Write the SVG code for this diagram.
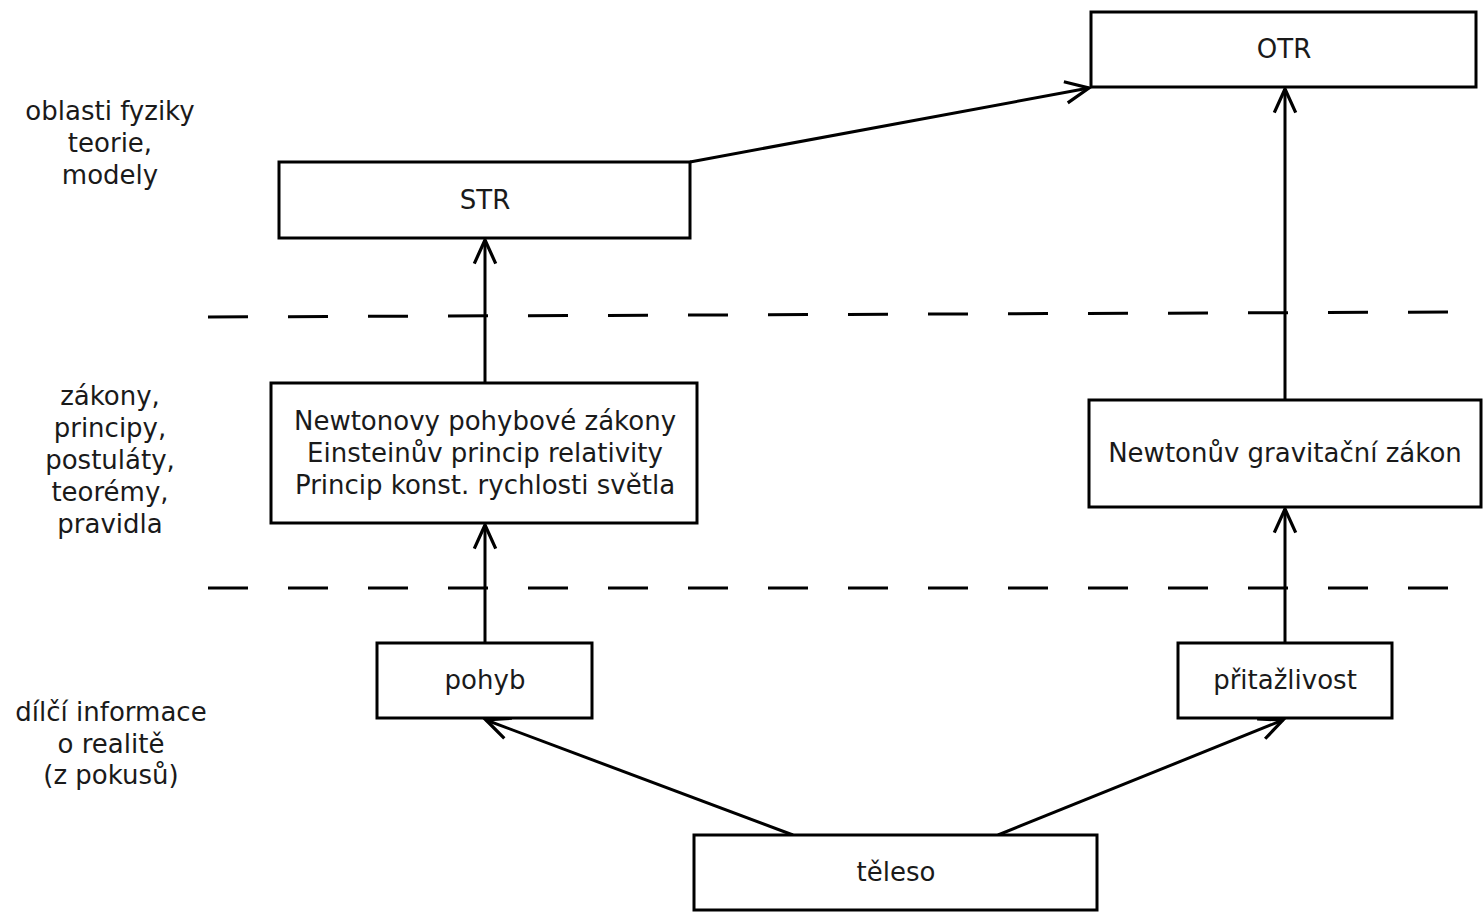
<svg xmlns="http://www.w3.org/2000/svg" width="1484" height="920" viewBox="0 0 1484 920">
  <defs>
    <style>
      .box { fill: #ffffff; stroke: #000000; stroke-width: 3; }
      .lbl { font-family: "DejaVu Sans", "Liberation Sans", sans-serif; font-size: 26px; fill: #1a1a1a; text-anchor: middle; }
      .edge { fill: none; stroke: #000000; stroke-width: 3; marker-end: url(#arrow); }
      .sep { fill: none; stroke: #000000; stroke-width: 3; stroke-dasharray: 40 40; }
    </style>
    <marker id="arrow" markerUnits="userSpaceOnUse" markerWidth="30" markerHeight="30" viewBox="-24 -12 28 24" refX="0" refY="0" orient="auto">
      <path d="M-22,-10 L0,0 L-22,10" fill="none" stroke="#000000" stroke-width="3" stroke-linejoin="miter"/>
    </marker>
  </defs>

  <rect width="1484" height="920" fill="#ffffff"/>

  <!-- level separators -->
  <g id="separators">
    <line class="sep" x1="208" y1="317" x2="1450" y2="312"/>
    <line class="sep" x1="208" y1="588" x2="1450" y2="588"/>
  </g>

  <!-- level captions -->
  <g id="captions">
    <text class="lbl" x="110" y="120">oblasti fyziky</text>
    <text class="lbl" x="110" y="152">teorie,</text>
    <text class="lbl" x="110" y="184">modely</text>

    <text class="lbl" x="110" y="405">zákony,</text>
    <text class="lbl" x="110" y="437">principy,</text>
    <text class="lbl" x="110" y="469">postuláty,</text>
    <text class="lbl" x="110" y="501">teorémy,</text>
    <text class="lbl" x="110" y="533">pravidla</text>

    <text class="lbl" x="111" y="721">dílčí informace</text>
    <text class="lbl" x="111" y="753">o realitě</text>
    <text class="lbl" x="111" y="784">(z pokusů)</text>
  </g>

  <!-- connectors -->
  <g id="connectors">
    <line class="edge" x1="690" y1="162" x2="1089" y2="88"/>
    <line class="edge" x1="485" y1="383" x2="485" y2="240"/>
    <line class="edge" x1="485" y1="643" x2="485" y2="525"/>
    <line class="edge" x1="1285" y1="400" x2="1285" y2="89"/>
    <line class="edge" x1="1285" y1="643" x2="1285" y2="509"/>
    <line class="edge" x1="793" y1="835" x2="486" y2="720"/>
    <line class="edge" x1="998" y1="835" x2="1283" y2="720"/>
  </g>

  <!-- nodes -->
  <g id="otr">
    <rect class="box" x="1091" y="12" width="385" height="75"/>
    <text class="lbl" x="1284" y="58">OTR</text>
  </g>
  <g id="str">
    <rect class="box" x="279" y="162" width="411" height="76"/>
    <text class="lbl" x="485" y="209">STR</text>
  </g>
  <g id="zakony">
    <rect class="box" x="271" y="383" width="426" height="140"/>
    <text class="lbl" x="485" y="430">Newtonovy pohybové zákony</text>
    <text class="lbl" x="485" y="462">Einsteinův princip relativity</text>
    <text class="lbl" x="485" y="494">Princip konst. rychlosti světla</text>
  </g>
  <g id="gravitace">
    <rect class="box" x="1089" y="400" width="392" height="107"/>
    <text class="lbl" x="1285" y="462">Newtonův gravitační zákon</text>
  </g>
  <g id="pohyb">
    <rect class="box" x="377" y="643" width="215" height="75"/>
    <text class="lbl" x="485" y="689">pohyb</text>
  </g>
  <g id="pritazlivost">
    <rect class="box" x="1178" y="643" width="214" height="75"/>
    <text class="lbl" x="1285" y="689">přitažlivost</text>
  </g>
  <g id="teleso">
    <rect class="box" x="694" y="835" width="403" height="75"/>
    <text class="lbl" x="896" y="881">těleso</text>
  </g>
</svg>
